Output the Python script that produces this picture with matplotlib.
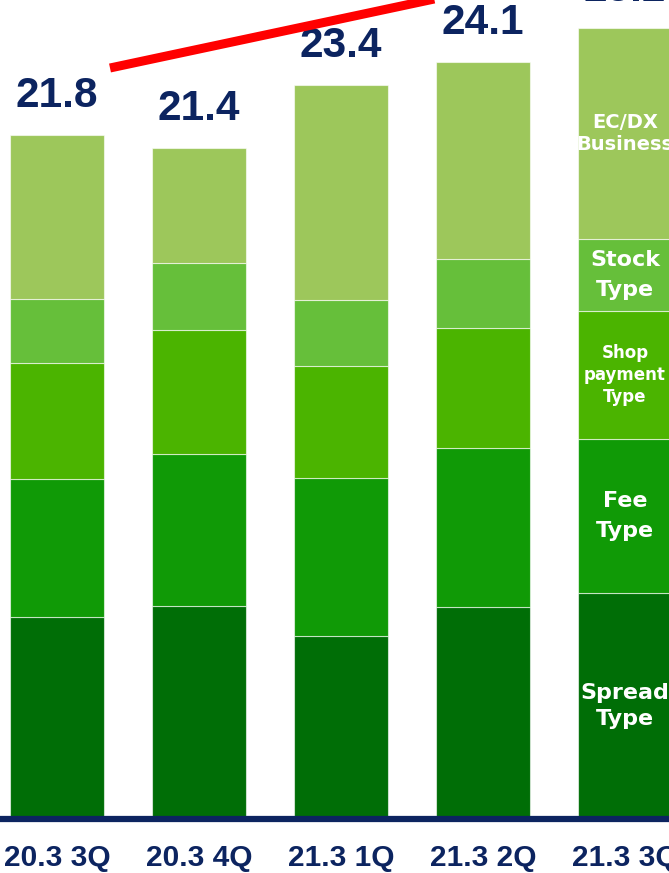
import matplotlib
matplotlib.use("Agg")
import matplotlib.pyplot as plt
import numpy as np

# Quarterly revenue breakdown by business type
quarters = ["20.3 3Q", "20.3 4Q", "21.3 1Q", "21.3 2Q", "21.3 3Q"]
spread_type = [6.44, 6.78, 5.82, 6.75, 7.20]
fee_type = [4.40, 4.86, 5.06, 5.09, 4.91]
shop_payment_type = [3.70, 3.96, 3.55, 3.80, 4.08]
stock_type = [2.04, 2.11, 2.11, 2.21, 2.30]
ecdx_business = [5.23, 3.69, 6.86, 6.27, 6.71]

segment_names = ["Spread\nType", "Fee\nType", "Shop\npayment\nType", "Stock\nType", "EC/DX\nBusiness"]
segment_colors = ["#006E06", "#109A06", "#4BB400", "#66BF3A", "#9DC75B"]
segment_font = [16, 16, 12, 16, 14]
segment_spacing = [1.4, 1.6, 1.3, 1.6, 1.2]

navy = "#0C2460"
W, H, DPI = 669, 873, 100

fig = plt.figure(figsize=(W / DPI, H / DPI), dpi=DPI)
ax = fig.add_axes([0, 54 / H, 1, 819 / H])

series = [spread_type, fee_type, shop_payment_type, stock_type, ecdx_business]
x = np.arange(len(quarters))
bottom = np.zeros(len(quarters))
for vals, color in zip(series, segment_colors):
    ax.bar(x, vals, width=0.66, bottom=bottom, color=color,
           edgecolor=(1, 1, 1, 0.6), linewidth=0.8, zorder=2)
    bottom += np.array(vals)

totals = bottom
for xi, t in zip(x, totals):
    ax.annotate(f"{t:.1f}", (xi, t), xytext=(0, 20), textcoords="offset points",
                ha="center", va="baseline", fontsize=30.5, fontweight="bold",
                color=navy, family="Liberation Sans")

# segment labels on the last bar
last = len(quarters) - 1
base = 0.0
for vals, name, fs, ls in zip(series, segment_names, segment_font, segment_spacing):
    mid = base + vals[last] / 2
    ax.text(x[last], mid, name, ha="center", va="center", fontsize=fs,
            fontweight="bold", color="white", family="DejaVu Sans",
            linespacing=ls, zorder=3)
    base += vals[last]

# growth trend arrow (decorative)
ax.plot([110 / W, 500 / W], [1 - 68 / 819, 1 + 15 / 819], color="#FF0000",
        linewidth=6.5, solid_capstyle="butt", transform=ax.transAxes,
        clip_on=False, zorder=4)

ax.set_xlim(-57 / 142, (W - 57) / 142)
ax.set_ylim(0, 819 * 21.8 / 684)
ax.axhline(0, color=navy, linewidth=4.5, zorder=5, clip_on=False)

ax.set_xticks(x)
ax.set_xticklabels(quarters, fontsize=21.5, fontweight="bold", color=navy,
                   family="Liberation Sans")
ax.tick_params(axis="x", length=0, pad=18)
ax.set_yticks([])
for s in ax.spines.values():
    s.set_visible(False)

fig.savefig("out.png", dpi=DPI)
